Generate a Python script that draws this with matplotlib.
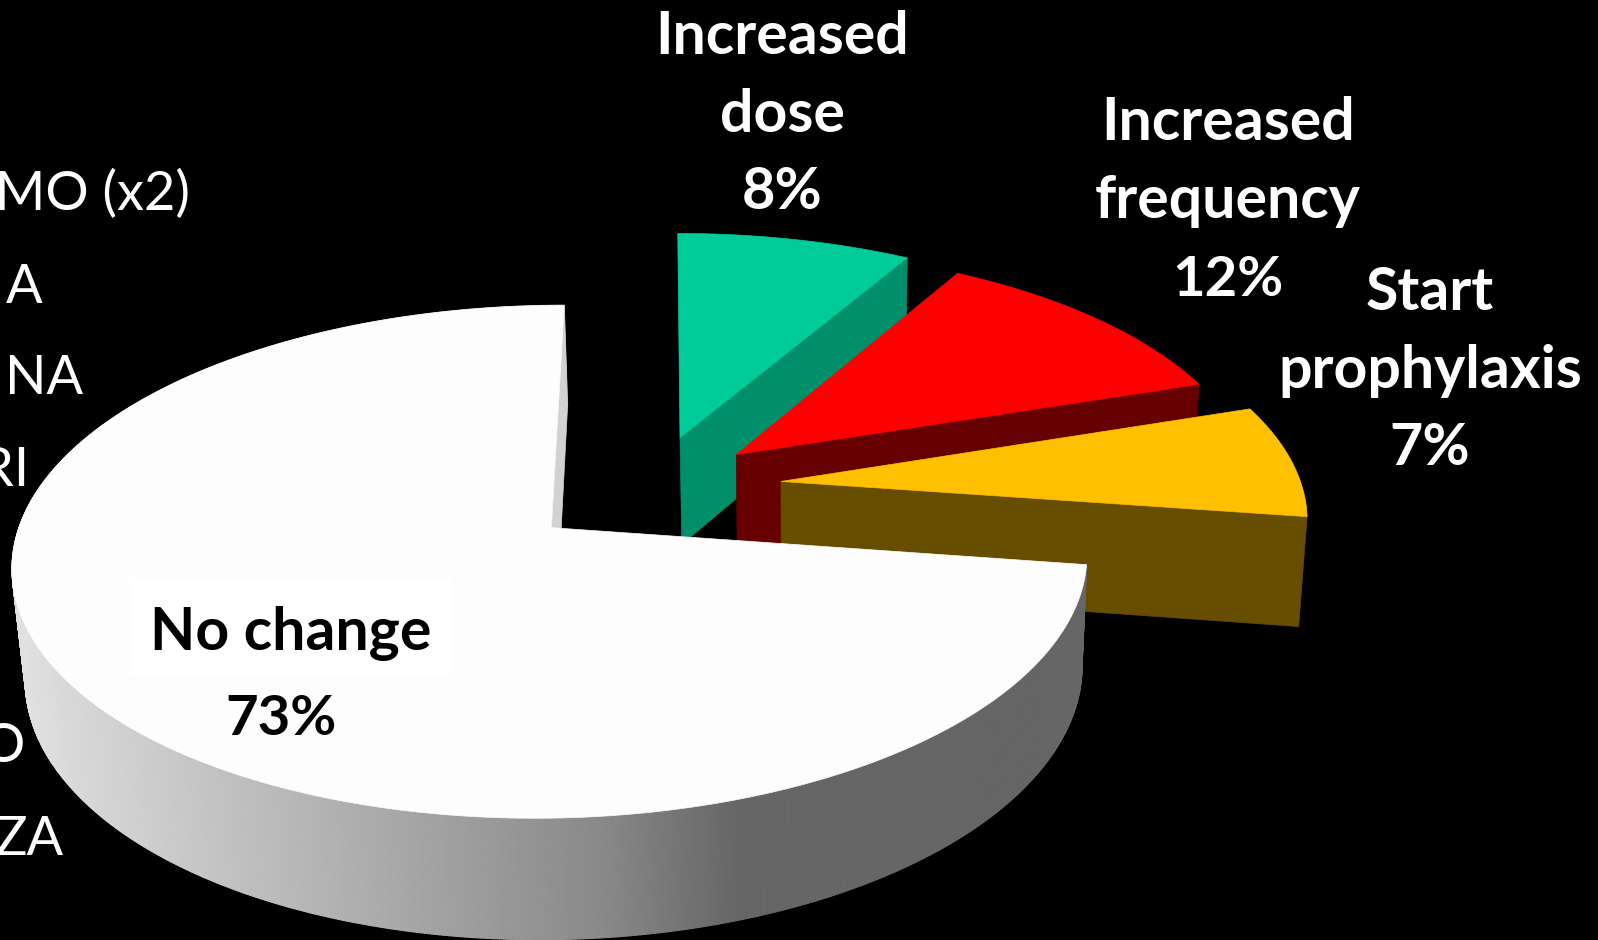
import numpy as np
import matplotlib
matplotlib.use("Agg")
import matplotlib.pyplot as plt
from matplotlib.patches import Polygon, Rectangle
from matplotlib.collections import PolyCollection

categories = ["Increased dose", "Increased frequency", "Start prophylaxis", "No change"]
values = [8.3, 11.6, 7.4, 72.7]
top_colors = ["#00CC99", "#FF0000", "#FFC000", "#FDFDFD"]
side_colors = ["#008F6B", "#660000", "#664D00", "#D2D2D2"]

# Shading of the outer wall of the large slice, by horizontal position
grad_x = [0, 15, 600, 740, 1598]
grad_level = [226, 226, 138, 102, 102]

# Perspective of the pie plane and the offset and radius of each exploded slice
P = (650.96, 489.81, 521.68, 241.91, 0.13016, 1.2163, 0.016513, 794.69, 7188.8)
offset_u = [0.0567, 0.1664, 0.2503, -0.1866]
offset_v = [0.2215, 0.1486, 0.0347, -0.1534]
radius = [1.0079, 0.9970, 1.0002, 1.0004]

bounds = 90 - np.cumsum([0] + values) * 3.6


def proj(u, v, z):
    cx, cy, A, B, k, S, m, vx, vy = P
    w = 1 + k * v + m * z
    return ((cx * (1 + k * v) + A * u + S * v + vx * m * z) / w,
            (cy * (1 + k * v) - B * v + vy * m * z) / w)


def arc(i, th, z):
    t = np.radians(th)
    return proj(offset_u[i] + radius[i] * np.cos(t), offset_v[i] + radius[i] * np.sin(t), z)


def apex(i, z):
    return proj(offset_u[i], offset_v[i], z)


fig = plt.figure(figsize=(15.98, 9.40), dpi=100, facecolor="black")
ax = fig.add_axes([0, 0, 1, 1])
ax.set_xlim(0, 1598)
ax.set_ylim(940, 0)
ax.axis("off")

for i in range(4):
    th = np.linspace(bounds[i], bounds[i + 1], 720)
    e = bounds[i + 1]
    face = [apex(i, 0), arc(i, e, 0), arc(i, e, 1), apex(i, 1)]
    ax.add_patch(Polygon(np.array(face), fc=side_colors[i], ec=side_colors[i], lw=.5,
                         zorder=7.5 if i == 3 else 2 * i + 1))
    if i == 3:
        a0, b0 = arc(i, th, 0)
        a1, b1 = arc(i, th, 1)
        quads = [[(a0[j], b0[j]), (a0[j + 1], b0[j + 1]), (a1[j + 1], b1[j + 1]), (a1[j], b1[j])]
                 for j in range(len(th) - 1)]
        lev = np.interp((a0[:-1] + a1[:-1]) / 2, grad_x, grad_level) / 255
        cols = np.c_[lev, lev, lev, np.ones_like(lev)]
        ax.add_collection(PolyCollection(quads, facecolors=cols, edgecolors=cols,
                                         linewidths=.8, zorder=7))
    a, b = arc(i, th, 0)
    x0, y0 = apex(i, 0)
    ax.add_patch(Polygon(np.c_[np.r_[x0, a], np.r_[y0, b]], fc=top_colors[i], ec=top_colors[i],
                         lw=.5, zorder=2 * i + 2))

ax.add_patch(Rectangle((130, 578), 323, 98, fc="white", ec="none", zorder=20))

bold = dict(family="Lato", weight="bold", ha="center", va="baseline", zorder=30)
for s, x, y, fs in [("Increased", 782, 53.5, 42.5), ("dose", 782, 131.5, 42.5), ("8%", 782, 209, 41.5),
                    ("Increased", 1228, 140.5, 42.5), ("frequency", 1228, 218.5, 42.5), ("12%", 1228, 296, 40.5),
                    ("Start", 1430, 310, 42.5), ("prophylaxis", 1430, 388.5, 42.5), ("7%", 1430, 465, 41.5)]:
    ax.text(x, y, s, color="white", fontsize=fs, **bold)
ax.text(290.5, 650, "No change", color="black", fontsize=42.5, **bold)
ax.text(281, 735, "73%", color="black", fontsize=40.5, **bold)

for s, x, y in [("MO (x2)", 190, 210), ("A", 42, 303), ("NA", 83, 394),
                ("RI", 29, 486.5), ("O", 25, 762), ("ZA", 64, 855)]:
    ax.text(x, y, s, color="white", family="Lato", ha="right", va="baseline", fontsize=39, zorder=30)

fig.savefig("out.png", dpi=100, facecolor="black")
